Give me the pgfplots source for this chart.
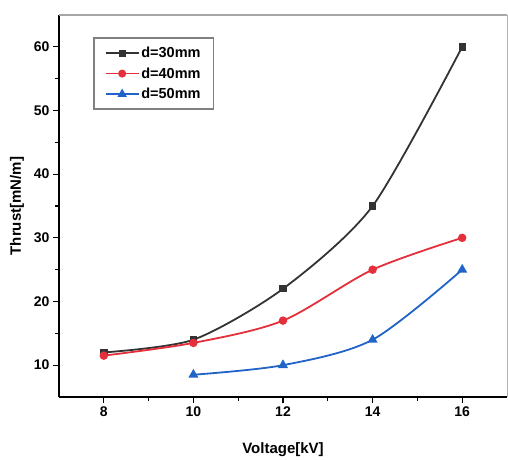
\documentclass[border=0pt]{standalone}
\usepackage{fontspec}
\setmainfont{Liberation Sans}
\usepackage{pgfplots}
\pgfplotsset{compat=1.18}
\definecolor{c30}{RGB}{51,51,51}
\definecolor{c40}{RGB}{228,48,58}
\definecolor{c50}{RGB}{32,100,200}
\begin{document}
\begin{tikzpicture}
\path[use as bounding box] (-59pt,-62pt) rectangle (449pt,397pt);
\begin{axis}[
 at={(0,0)}, anchor=south west,
 scale only axis, width=448pt, height=382pt,
 xmin=7, xmax=17, ymin=5, ymax=65,
 xtick={8,10,...,16}, ytick={10,20,...,60},
 minor x tick num=1, minor y tick num=1,
 axis x line*=bottom, axis y line*=left,
 axis line style={line width=1.6pt, black, -},
 tick align=outside,
 major tick length=6pt, minor tick length=4pt,
 tick style={line width=1.2pt, black},
 /pgf/number format/assume math mode=true,
 ticklabel style={font=\fontsize{14}{16}\selectfont\bfseries},
 xlabel={Voltage[kV]}, ylabel={Thrust[mN/m]},
 every axis x label/.style={at={(axis description cs:0.5,-0.1387)}, anchor=center, font=\fontsize{15}{18}\selectfont\bfseries},
 every axis y label/.style={at={(axis description cs:-0.094,0.5)}, anchor=center, rotate=90, font=\fontsize{15}{18}\selectfont\bfseries},
 legend style={at={(0.076,0.942)}, anchor=north west, draw=gray, line width=1.8pt,
   font=\fontsize{14.5}{16}\selectfont\bfseries, row sep=4.5pt, inner xsep=11pt, inner ysep=7pt},
 legend cell align=left,
 legend image code/.code={\draw[line width=1.4pt, mark repeat=2,mark phase=2] plot coordinates {(0cm,0cm) (0.58cm,0cm) (1.16cm,0cm)};},
 after end axis/.code={
   \draw[gray!70, line width=1.8pt] (rel axis cs:0,1) -- (rel axis cs:1,1);
   \draw[gray!60, line width=0.8pt] (rel axis cs:1,1) -- (rel axis cs:1,0);
 },
]
\addplot[c30, line width=1.8pt, smooth, tension=0.45, mark=square*, mark size=2.8pt, mark options={fill=c30}]
 coordinates {(8,12) (10,14) (12,22) (14,35) (16,60)};
\addlegendentry{d=30mm}
\addplot[c40, line width=1.8pt, smooth, mark=*, mark size=3.3pt, mark options={fill=c40}]
 coordinates {(8,11.5) (10,13.5) (12,17) (14,25) (16,30)};
\addlegendentry{d=40mm}
\addplot[c50, line width=1.8pt, smooth, mark=triangle*, mark size=4pt, mark options={fill=c50}]
 coordinates {(10,8.5) (12,10) (14,14) (16,25)};
\addlegendentry{d=50mm}
\end{axis}
\end{tikzpicture}
\end{document}
